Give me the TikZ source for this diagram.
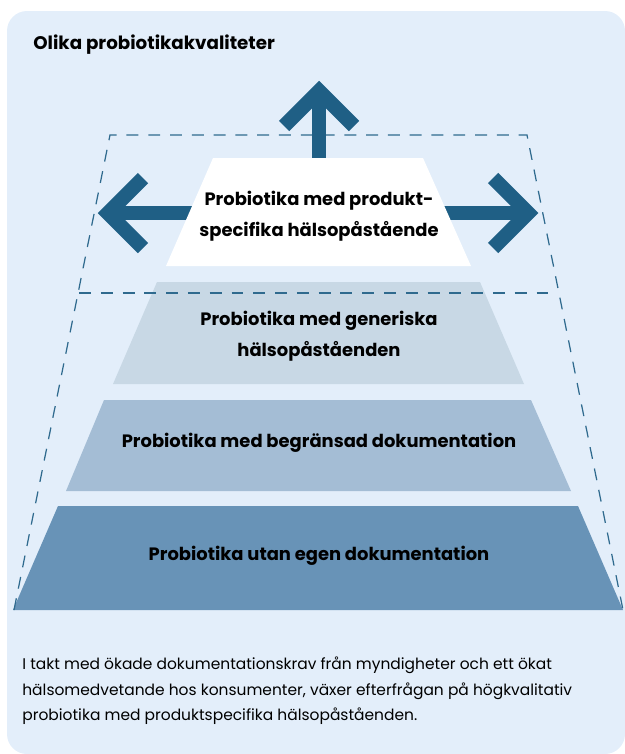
\documentclass[tikz,border=0pt]{standalone}
\usepackage{fontspec}
\setmainfont{Poppins}
\definecolor{bgblue}{HTML}{E3EEFA}
\definecolor{arrowblue}{HTML}{1F5F85}
\definecolor{dashblue}{HTML}{2F6A8E}
\definecolor{tiertwo}{HTML}{C8D8E5}
\definecolor{tierthree}{HTML}{A4BDD5}
\definecolor{tierfour}{HTML}{6893B7}

\begin{document}
\begin{tikzpicture}[x=0.02cm, y=-0.02cm,
    tierlabel/.style={font=\bfseries\fontsize{10.2}{17.5}\selectfont, align=center},
    bigarrow/.style={arrowblue, line width=0.29cm, line join=miter},
    outline/.style={dashblue, line width=0.7pt, dash pattern=on 6.8pt off 5.6pt}]
  \useasboundingbox (0,0) rectangle (625,754);

  % Panel background
  \fill[bgblue, rounded corners=0.4cm] (7,11) rectangle (625,754);

  % Title
  \node[anchor=base west, inner sep=0pt, font=\bfseries\fontsize{10.4}{12}\selectfont] (title) at (33,49) {Olika probiotikakvaliteter};

  % Lower tiers of the pyramid
  \fill[tiertwo] (157,282) -- (480,282) -- (524,384) -- (113,384) -- cycle;
  \fill[tierthree] (104,400) -- (531,400) -- (571,491) -- (66,491) -- cycle;
  \fill[tierfour] (58,506) -- (578,506) -- (623,610) -- (13,610) -- cycle;

  % Dashed frame of the growing top tier
  \draw[outline] (14,610) -- (110,135) -- (527,135) -- (623,610);
  \draw[outline] (79,293) -- (558,293);

  % Arrows pointing outwards
  % - up
  \draw[bigarrow] (319,170) -- (319,91);
  \draw[bigarrow] (284,126) -- (319,91) -- (354,126);
  % - left
  \draw[bigarrow] (200,213) -- (108,213);
  \draw[bigarrow] (143,178) -- (108,213) -- (143,248);
  % - right
  \draw[bigarrow] (440,213) -- (528,213);
  \draw[bigarrow] (493,178) -- (528,213) -- (493,248);

  % Top tier
  \fill[white] (213,158) -- (423,158) -- (471,266) -- (166,266) -- cycle;

  % Tier labels
  \node[tierlabel] (specific) at (319,216) {Probiotika med produkt-\\specifika hälsopåstående};
  \node[tierlabel] (generic) at (319,336) {Probiotika med generiska\\hälsopåståenden};
  \node[tierlabel] (limited) at (319,443) {Probiotika med begränsad dokumentation};
  \node[tierlabel] (none) at (319,556) {Probiotika utan egen dokumentation};

  % Caption
  \node[anchor=north west, inner sep=0pt, align=left, font=\fontsize{8.8}{14.5}\selectfont] (caption) at (22,657)
    {I takt med ökade dokumentationskrav från myndigheter och ett ökat\\
     hälsomedvetande hos konsumenter, växer efterfrågan på högkvalitativ\\
     probiotika med produktspecifika hälsopåståenden.};
\end{tikzpicture}
\end{document}
